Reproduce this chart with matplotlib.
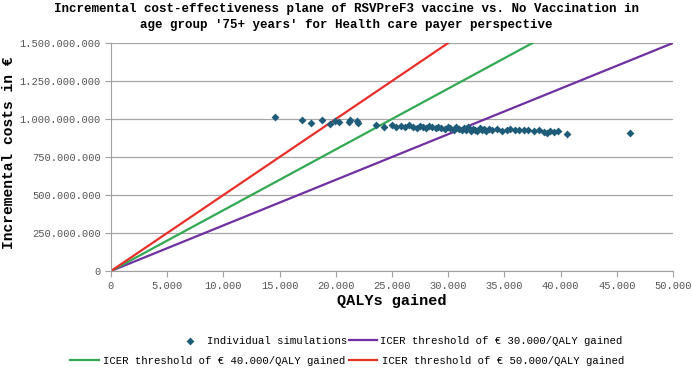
import numpy as np
import matplotlib
matplotlib.use('Agg')
import matplotlib.pyplot as plt
from matplotlib.ticker import FuncFormatter

plt.rcParams['font.family'] = ['Liberation Mono', 'DejaVu Sans Mono']

# Individuelle simulaties (QALYs in duizenden, kosten in miljoenen)
qaly_k = [14.6, 17.0, 17.8, 18.8, 19.5, 19.9, 20.3, 21.2, 21.3, 21.9, 22.0, 23.6, 24.3,
          25.0, 25.4, 25.8, 26.2, 26.5, 26.9, 27.2, 27.5, 27.8, 28.0, 28.3, 28.6, 28.9,
          29.1, 29.4, 29.7, 30.0, 30.2, 30.5, 30.7, 31.0, 31.2, 31.4, 31.6, 31.8, 32.0,
          32.2, 32.4, 32.6, 32.8, 33.0, 33.2, 33.4, 33.6, 33.9, 34.3, 34.8, 35.2, 35.5,
          35.9, 36.3, 36.7, 37.1, 37.6, 38.1, 38.5, 38.8, 39.1, 39.4, 39.8, 40.6, 46.2]
cost_m = [1010, 995, 975, 995, 965, 990, 978, 980, 992, 985, 975, 962, 950,
          958, 948, 955, 945, 958, 950, 942, 955, 948, 940, 952, 945, 938,
          950, 942, 935, 945, 938, 930, 948, 935, 925, 940, 930, 945, 920,
          935, 928, 918, 938, 925, 932, 920, 935, 928, 935, 918, 925, 935,
          928, 930, 928, 930, 920, 928, 915, 905, 920, 912, 920, 900, 905]

# ICER drempels (€/QALY)
thresholds = [30000, 40000, 50000]
threshold_colors = ['#7030A0', '#33A853', '#E8302A']
qaly_range = np.array([0, 50000])

fig = plt.figure(figsize=(6.92, 3.68), dpi=100)
ax = fig.add_axes([111 / 692, 1 - 271 / 368, 562 / 692, 228 / 368])

qaly = np.array(qaly_k) * 1000
cost = np.array(cost_m) * 1e6

lines = {}
for thr, col in zip(thresholds, threshold_colors):
    ln, = ax.plot(qaly_range, thr * qaly_range, color=col, lw=1.6, zorder=2)
    lines[thr] = ln
sc = ax.scatter(qaly, cost, marker='D', s=16, color='#1F5C7A', zorder=3, linewidths=0)

ax.set_xlim(0, 50000)
ax.set_ylim(0, 1.5e9)
ax.set_xticks(np.arange(0, 50001, 5000))
ax.set_yticks(np.arange(0, 1.5e9 + 1, 2.5e8))

fmt = FuncFormatter(lambda v, p: f'{int(round(v)):,}'.replace(',', '.'))
ax.xaxis.set_major_formatter(fmt)
ax.yaxis.set_major_formatter(fmt)

ax.grid(axis='y', color='#A6A6A6', lw=0.9, zorder=0)
ax.set_axisbelow(True)
for s in ['top', 'right']:
    ax.spines[s].set_visible(False)
for s in ['left', 'bottom']:
    ax.spines[s].set_color('#A0A0A0')
ax.tick_params(colors='#A0A0A0', labelcolor='#555555', labelsize=7.5, length=4)

ax.set_xlabel('QALYs gained', fontsize=11, fontweight='bold')
ax.xaxis.set_label_coords(0.5, -(301 - 271) / 228, transform=ax.transAxes)
ax.xaxis.label.set_va('center')
ax.set_ylabel('Incremental costs in €', fontsize=10.5, fontweight='bold')
ax.yaxis.set_label_coords(-(111 - 9) / 562, 0.52, transform=ax.transAxes)
ax.yaxis.label.set_va('center')

fig.text(0.5, 1 - 9 / 368, "Incremental cost-effectiveness plane of RSVPreF3 vaccine vs. No Vaccination in",
         ha='center', va='center', fontsize=9, fontweight='bold')
fig.text(0.5, 1 - 25 / 368, "age group '75+ years' for Health care payer perspective",
         ha='center', va='center', fontsize=9, fontweight='bold')

leg1 = fig.legend([sc, lines[30000]],
                  ['Individual simulations', 'ICER threshold of € 30.000/QALY gained'],
                  loc='center left', bbox_to_anchor=(176 / 692, 1 - 341 / 368), ncol=2,
                  frameon=False, fontsize=7.7, handlelength=2.6, handletextpad=0.3,
                  columnspacing=0.2, borderpad=0, borderaxespad=0)
leg2 = fig.legend([lines[40000], lines[50000]],
                  ['ICER threshold of € 40.000/QALY gained', 'ICER threshold of € 50.000/QALY gained'],
                  loc='center left', bbox_to_anchor=(70 / 692, 1 - 361 / 368), ncol=2,
                  frameon=False, fontsize=7.7, handlelength=2.7, handletextpad=0.4,
                  columnspacing=0.3, borderpad=0, borderaxespad=0)

fig.savefig('out.png', dpi=100)
